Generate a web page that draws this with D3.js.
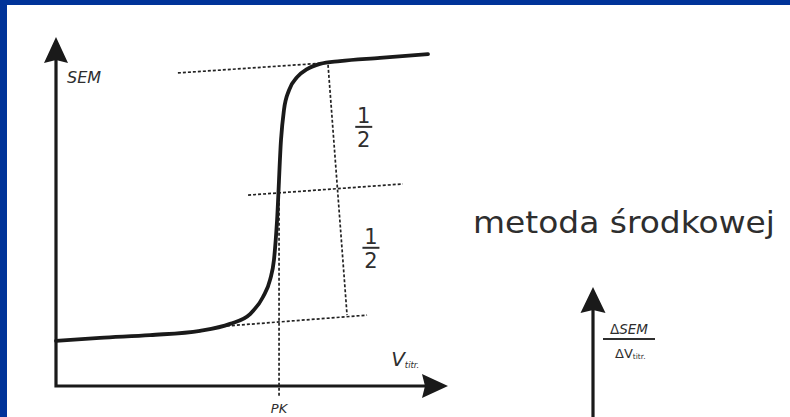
<!DOCTYPE html>
<html>
<head>
<meta charset="utf-8">
<script src="https://cdn.jsdelivr.net/npm/d3@7"></script>
<style>
  html, body { margin: 0; padding: 0; background: #fff; }
  svg { display: block; }
  text { font-family: "DejaVu Sans", Verdana, sans-serif; fill: #2e2e2e; }
</style>
</head>
<body>
<svg id="chart" width="790" height="417"></svg>
<script>
// Titration curve: SEM versus titrant volume
const vTitr = [0, 2.24, 4.80, 7.35, 8.88, 9.90, 10.56, 10.92, 11.12, 11.28, 11.48, 11.63, 11.89, 12.30, 12.81, 13.47, 14.49, 16.53, 18.98];
const sem   = [12.9, 13.8, 14.6, 15.8, 17.8, 20.6, 25.5, 30.4, 36.1, 47.6, 70.5, 79.1, 84.8, 88.5, 90.8, 92.3, 93.1, 94.0, 95.1];

// Tangents to the flat parts and the parallel through the midpoint
const upperTangent  = [[6.22, 89.7], [13.83, 92.6]];
const middleLine    = [[9.80, 54.7], [17.70, 57.9]];
const lowerTangent  = [[8.72, 17.2], [15.87, 20.3]];
// Segment measured between the two tangents, split into halves
const measureLine   = [[13.88, 92.0], [14.85, 20.3]];
// End point (PK)
const pkVolume = 11.38;
const pkLabel = "PK";
const halfLabel = ["1", "2"];
const methodTitle = "metoda środkowej";

const svg = d3.select("#chart");
const W = 790, H = 417;

// frame
svg.append("rect").attr("width", W).attr("height", H).attr("fill", "#003399");
svg.append("rect").attr("x", 7).attr("y", 5).attr("width", W - 7).attr("height", H - 5).attr("fill", "#fff");

const x = d3.scaleLinear().domain([0, 20]).range([56, 448]);
const y = d3.scaleLinear().domain([0, 100]).range([386, 37]);

const ink = "#1a1a1a";

function arrowUp(g, cx, tipY, baseY, halfW) {
  g.append("path")
    .attr("d", `M${cx},${tipY} L${cx + halfW},${baseY} L${cx},${baseY - 3} L${cx - halfW},${baseY} Z`)
    .attr("fill", ink);
}
function arrowRight(g, tipX, cy, baseX, halfH) {
  g.append("path")
    .attr("d", `M${tipX},${cy} L${baseX},${cy + halfH} L${baseX + 3},${cy} L${baseX},${cy - halfH} Z`)
    .attr("fill", ink);
}

// axes
const axes = svg.append("g");
axes.append("path")
  .attr("d", `M${x(0)},${y(100) + 20} L${x(0)},${y(0)} L${x(20) - 20},${y(0)}`)
  .attr("fill", "none").attr("stroke", ink).attr("stroke-width", 3.2)
  .attr("stroke-linejoin", "miter");
arrowUp(axes, x(0), y(100), y(100) + 26, 12);
arrowRight(axes, x(20), y(0), x(20) - 26, 12);

// axis labels
svg.append("text").attr("x", x(0) + 11).attr("y", y(86.7))
  .attr("font-size", 16).attr("font-style", "italic").attr("fill", "#444").text("SEM");
const vt = svg.append("text").attr("x", x(17.1)).attr("y", y(5.6))
  .attr("font-style", "italic").attr("fill", "#3a3a3a");
vt.append("tspan").attr("font-size", 20).text("V");
vt.append("tspan").attr("font-size", 8.5).attr("dy", 2).text("titr.");

// dashed construction lines
const line = d3.line().x(d => x(d[0])).y(d => y(d[1]));
const dashed = svg.append("g")
  .attr("fill", "none").attr("stroke", "#222").attr("stroke-width", 1.7)
  .attr("stroke-dasharray", "3,2");
[upperTangent, middleLine, lowerTangent, measureLine].forEach(seg => {
  dashed.append("path").attr("d", line(seg));
});
// vertical line through the end point, from the middle line down past the axis
const midSlope = (middleLine[1][1] - middleLine[0][1]) / (middleLine[1][0] - middleLine[0][0]);
const pkSem = middleLine[0][1] + midSlope * (pkVolume - middleLine[0][0]);
dashed.append("path").attr("d", line([[pkVolume, pkSem], [pkVolume, -3.2]]));

// titration curve
svg.append("path")
  .datum(vTitr.map((v, i) => [v, sem[i]]))
  .attr("d", d3.line().x(d => x(d[0])).y(d => y(d[1])).curve(d3.curveMonotoneX))
  .attr("fill", "none").attr("stroke", ink).attr("stroke-width", 3.8)
  .attr("stroke-linecap", "round");

// PK label
svg.append("text").attr("x", x(pkVolume)).attr("y", 413)
  .attr("text-anchor", "middle").attr("font-size", 13).attr("font-style", "italic")
  .attr("fill", "#3a3a3a").text(pkLabel);

// "1/2" fractions between the tangents
function lerpSeg(seg, s) {
  const [a, b] = seg;
  const t = (s - a[1]) / (b[1] - a[1]);
  return a[0] + t * (b[0] - a[0]);
}
function fraction(cx, cy) {
  const g = svg.append("g");
  g.append("text").attr("x", cx).attr("y", cy - 4).attr("text-anchor", "middle")
    .attr("font-size", 21).text(halfLabel[0]);
  g.append("line").attr("x1", cx - 8.5).attr("x2", cx + 8.5).attr("y1", cy).attr("y2", cy)
    .attr("stroke", "#2e2e2e").attr("stroke-width", 2);
  g.append("text").attr("x", cx).attr("y", cy + 20).attr("text-anchor", "middle")
    .attr("font-size", 21).text(halfLabel[1]);
}
const sTop = (upperTangent[1][1] + 55.9) / 2;
const sBot = (55.9 + lowerTangent[1][1]) / 2 + 1.5;
fraction(x(lerpSeg(measureLine, sTop)) + 31, y(sTop));
fraction(x(lerpSeg(measureLine, sBot)) + 29, y(sBot));

// method title
svg.append("text").attr("x", 473).attr("y", 233)
  .attr("font-size", 31).attr("textLength", 302).attr("lengthAdjust", "spacingAndGlyphs")
  .text(methodTitle);

// derivative panel (axis only, continues below)
const x2 = d3.scaleLinear().domain([0, 20]).range([593, 985]);
const y2 = d3.scaleLinear().domain([0, 100]).range([636, 287]);
const axes2 = svg.append("g");
axes2.append("line").attr("x1", x2(0)).attr("x2", x2(0)).attr("y1", y2(100) + 20).attr("y2", H + 5)
  .attr("stroke", ink).attr("stroke-width", 3.2);
arrowUp(axes2, x2(0), y2(100), y2(100) + 26, 12.5);
const fx = x2(0) + 36;
svg.append("text").attr("x", fx).attr("y", 333.5).attr("text-anchor", "middle")
  .attr("font-size", 13.5).attr("fill", "#3a3a3a")
  .html('Δ<tspan font-style="italic">SEM</tspan>');
svg.append("line").attr("x1", fx - 26).attr("x2", fx + 26).attr("y1", 339).attr("y2", 339)
  .attr("stroke", "#2e2e2e").attr("stroke-width", 2.2);
const dv = svg.append("text").attr("x", fx - 14).attr("y", 357.5).attr("fill", "#3a3a3a");
dv.append("tspan").attr("font-size", 13).text("ΔV");
dv.append("tspan").attr("font-size", 7.5).attr("dy", 1).text("titr.");
</script>
</body>
</html>
